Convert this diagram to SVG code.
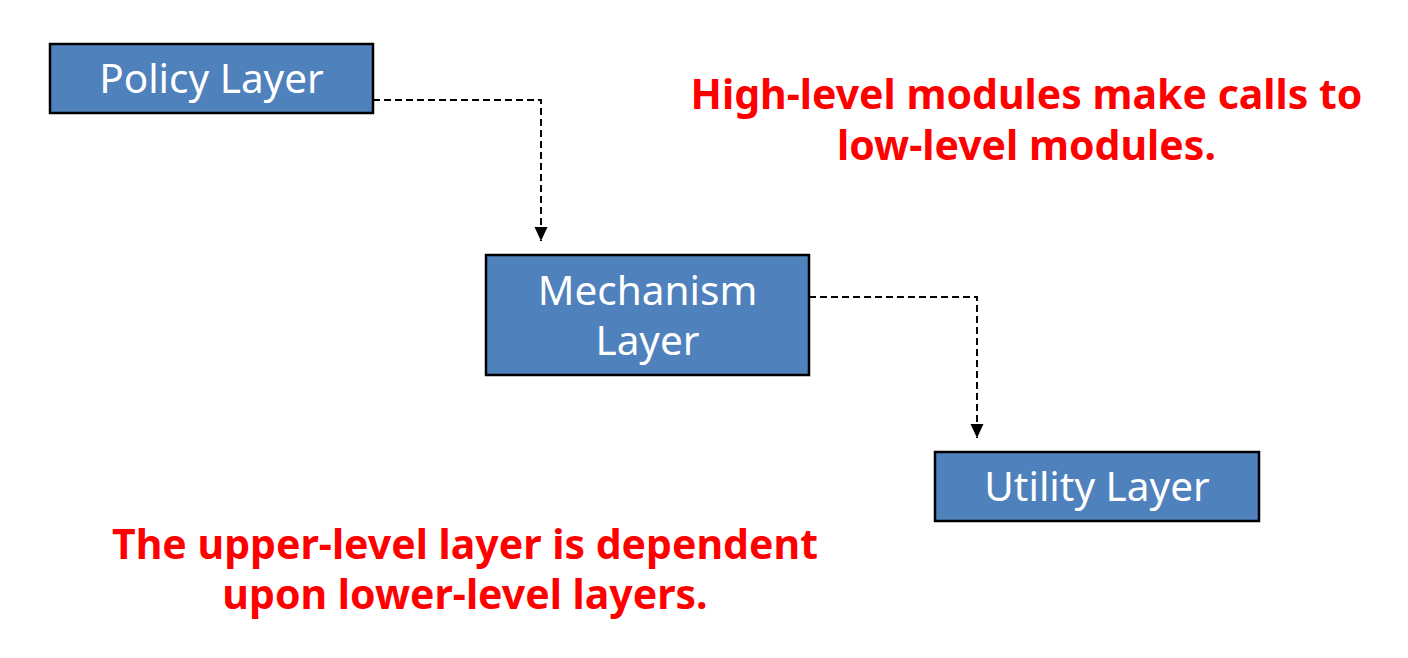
<svg xmlns="http://www.w3.org/2000/svg" width="1408" height="658" viewBox="0 0 1408 658">
<defs>
<style>
.box{fill:#4f81bd;stroke:#000;stroke-width:2.5}
.lbl{font-family:"Noto Sans","Open Sans","Liberation Sans",sans-serif;font-size:40.5px;fill:#fff;text-anchor:middle}
.note{font-family:"Noto Sans","Open Sans","Liberation Sans",sans-serif;font-weight:bold;font-size:41px;fill:#ff0000;text-anchor:middle}
.conn{fill:none;stroke:#000;stroke-width:2;stroke-dasharray:7,4}
</style>
<marker id="arr" markerWidth="14" markerHeight="14" viewBox="0 0 14 14" refX="14" refY="7" orient="auto" markerUnits="userSpaceOnUse">
<path d="M0,0.5 L14,7 L0,13.5 Z" fill="#000"/>
</marker>
</defs>
<rect width="1408" height="658" fill="#fff"/>
<g id="connectors">
<path class="conn" d="M373,100 H541 V241" marker-end="url(#arr)"/>
<path class="conn" d="M809,297 H977 V438" marker-end="url(#arr)"/>
</g>
<g id="policy">
<rect class="box" x="50" y="44" width="323" height="69"/>
<text class="lbl" x="211.5" y="93">Policy Layer</text>
</g>
<g id="mechanism">
<rect class="box" x="486" y="255" width="323" height="120"/>
<text class="lbl" x="647.5" y="305">Mechanism</text>
<text class="lbl" x="647.5" y="355">Layer</text>
</g>
<g id="utility">
<rect class="box" x="935" y="452" width="324" height="69"/>
<text class="lbl" x="1097" y="501">Utility Layer</text>
</g>
<g id="note-high">
<text class="note" x="1026.5" y="109">High-level modules make calls to</text>
<text class="note" x="1026.5" y="160">low-level modules.</text>
</g>
<g id="note-upper">
<text class="note" x="465" y="559">The upper-level layer is dependent</text>
<text class="note" x="465" y="609">upon lower-level layers.</text>
</g>
</svg>
